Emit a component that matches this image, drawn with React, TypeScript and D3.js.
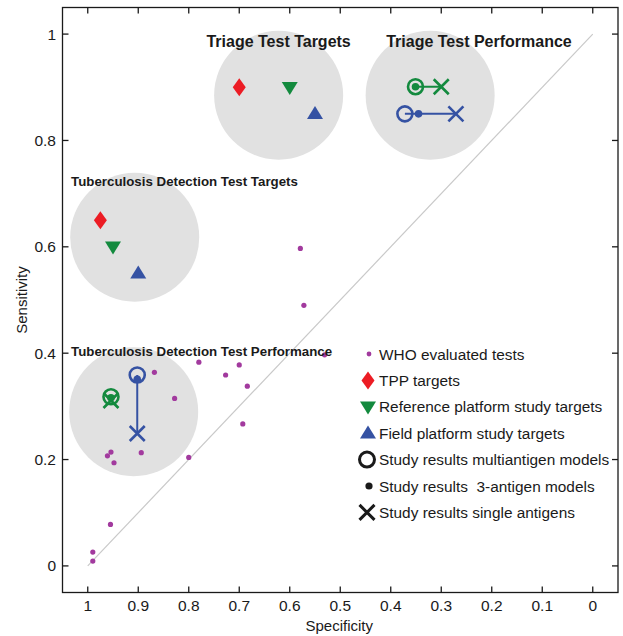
import React, { useEffect, useRef } from 'react'
import * as d3 from 'd3'

// WHO evaluated tests (specificity, sensitivity)
const whoSpecificity = [0.99, 0.99, 0.955, 0.961, 0.954, 0.948, 0.894, 0.8, 0.868, 0.828, 0.78, 0.7, 0.727, 0.684, 0.693, 0.531, 0.572, 0.579]
const whoSensitivity = [0.026, 0.009, 0.078, 0.207, 0.214, 0.194, 0.213, 0.204, 0.364, 0.315, 0.383, 0.378, 0.359, 0.338, 0.267, 0.397, 0.49, 0.597]

// targets: [triage, tuberculosis detection]
const tppSpec = [0.7, 0.975]
const tppSens = [0.9, 0.65]
const refSpec = [0.6, 0.95]
const refSens = [0.9, 0.6]
const fieldSpec = [0.55, 0.9]
const fieldSens = [0.85, 0.55]

// study results: [triage reference, triage field, TB reference, TB field]
const studyPlatform = ['ref', 'field', 'ref', 'field']
const multiSpec = [0.351, 0.372, 0.954, 0.902]
const multiSens = [0.901, 0.85, 0.318, 0.359]
const threeSpec = [0.351, 0.345, 0.954, 0.902]
const threeSens = [0.901, 0.85, 0.316, 0.351]
const singleSpec = [0.3, 0.271, 0.954, 0.902]
const singleSens = [0.901, 0.85, 0.311, 0.249]

// grey panels
const panelSpec = [0.622, 0.322, 0.907, 0.909]
const panelSens = [0.885, 0.885, 0.618, 0.29]
const panelTitles = ['Triage Test Targets', 'Triage Test Performance', 'Tuberculosis Detection Test Targets', 'Tuberculosis Detection Test Performance']
const titleSpec = [0.765, 0.409, 1.033, 1.033]
const titleSens = [0.976, 0.976, 0.714, 0.395]

const legendLabels = [
  'WHO evaluated tests',
  'TPP targets',
  'Reference platform study targets',
  'Field platform study targets',
  'Study results multiantigen models',
  'Study results  3-antigen models',
  'Study results single antigens',
]

const xTicks = [1, 0.9, 0.8, 0.7, 0.6, 0.5, 0.4, 0.3, 0.2, 0.1, 0]
const yTicks = [0, 0.2, 0.4, 0.6, 0.8, 1]

const W = 623
const H = 636
const FONT = 'Liberation Sans, Arial, Helvetica, sans-serif'
const RED = '#ec1c24'
const GREEN = '#138a3e'
const BLUE = '#3552a3'
const PURPLE = '#a23a9e'
const INK = '#1a1a1a'

const diamond = (w: number, h: number) => `M0,${-h}L${w},0L0,${h}L${-w},0Z`
const triUp = (w: number, h: number) => `M0,${-h * 0.6}L${w},${h * 0.4}L${-w},${h * 0.4}Z`
const triDown = (w: number, h: number) => `M0,${h * 0.6}L${w},${-h * 0.4}L${-w},${-h * 0.4}Z`
const cross = (s: number) => `M${-s},${-s}L${s},${s}M${-s},${s}L${s},${-s}`

const draw = (el: SVGSVGElement) => {
  const svg = d3.select(el)
  svg.selectAll('*').remove()

  const x = d3.scaleLinear().domain([1.05, -0.05]).range([62.5, 618])
  const y = d3.scaleLinear().domain([-0.05, 1.05]).range([592.5, 7.5])

  // panels
  svg
    .append('g')
    .selectAll('circle')
    .data(panelSpec)
    .join('circle')
    .attr('cx', d => x(d))
    .attr('cy', (d, i) => y(panelSens[i]))
    .attr('r', 64.5)
    .attr('fill', '#e1e1e1')

  // diagonal
  svg
    .append('line')
    .attr('x1', x(1))
    .attr('y1', y(0))
    .attr('x2', x(0))
    .attr('y2', y(1))
    .attr('stroke', '#c9c9c9')
    .attr('stroke-width', 1.2)

  // WHO tests
  svg
    .append('g')
    .selectAll('circle')
    .data(whoSpecificity)
    .join('circle')
    .attr('cx', d => x(d))
    .attr('cy', (d, i) => y(whoSensitivity[i]))
    .attr('r', 2.6)
    .attr('fill', PURPLE)

  // targets
  const targets = svg.append('g')
  tppSpec.forEach((d, i) => {
    targets.append('path').attr('d', diamond(6.5, 9)).attr('fill', RED)
      .attr('transform', `translate(${x(d)},${y(tppSens[i])})`)
  })
  refSpec.forEach((d, i) => {
    targets.append('path').attr('d', triDown(8, 13)).attr('fill', GREEN)
      .attr('transform', `translate(${x(d)},${y(refSens[i])})`)
  })
  fieldSpec.forEach((d, i) => {
    targets.append('path').attr('d', triUp(8, 13)).attr('fill', BLUE)
      .attr('transform', `translate(${x(d)},${y(fieldSens[i])})`)
  })

  // study results
  const results = svg.append('g')
  studyPlatform.forEach((p, i) => {
    const c = p === 'ref' ? GREEN : BLUE
    results.append('line')
      .attr('x1', x(multiSpec[i])).attr('y1', y(multiSens[i]))
      .attr('x2', x(singleSpec[i])).attr('y2', y(singleSens[i]))
      .attr('stroke', c).attr('stroke-width', 2)
    results.append('circle')
      .attr('cx', x(multiSpec[i])).attr('cy', y(multiSens[i])).attr('r', 7.5)
      .attr('fill', 'none').attr('stroke', c).attr('stroke-width', 2.6)
    results.append('circle')
      .attr('cx', x(threeSpec[i])).attr('cy', y(threeSens[i])).attr('r', 3.8)
      .attr('fill', c)
    results.append('path')
      .attr('d', cross(7.5))
      .attr('transform', `translate(${x(singleSpec[i])},${y(singleSens[i])})`)
      .attr('fill', 'none').attr('stroke', c).attr('stroke-width', 2.6)
  })

  // panel titles
  svg
    .append('g')
    .selectAll('text')
    .data(panelTitles)
    .join('text')
    .attr('x', (d, i) => x(titleSpec[i]))
    .attr('y', (d, i) => y(titleSens[i]))
    .attr('font-family', FONT)
    .attr('font-weight', 'bold')
    .attr('font-size', (d, i) => (i < 2 ? 16 : 13.3))
    .attr('fill', INK)
    .text(d => d)

  // frame + ticks (inward on all four sides)
  const frame = svg.append('g').attr('stroke', INK).attr('stroke-width', 1.3).attr('fill', 'none')
  frame.append('rect').attr('x', x(1.05)).attr('y', y(1.05)).attr('width', x(-0.05) - x(1.05)).attr('height', y(-0.05) - y(1.05))
  xTicks.forEach(t => {
    frame.append('line').attr('x1', x(t)).attr('x2', x(t)).attr('y1', y(-0.05)).attr('y2', y(-0.05) - 6)
    frame.append('line').attr('x1', x(t)).attr('x2', x(t)).attr('y1', y(1.05)).attr('y2', y(1.05) + 6)
  })
  yTicks.forEach(t => {
    frame.append('line').attr('y1', y(t)).attr('y2', y(t)).attr('x1', x(1.05)).attr('x2', x(1.05) + 6)
    frame.append('line').attr('y1', y(t)).attr('y2', y(t)).attr('x1', x(-0.05)).attr('x2', x(-0.05) - 6)
  })

  const fmt = (d: number) => (d === 0 || d === 1 ? String(d) : d3.format('.1f')(d))
  svg.append('g').selectAll('text').data(xTicks).join('text')
    .attr('x', d => x(d)).attr('y', 611)
    .attr('text-anchor', 'middle').attr('font-family', FONT).attr('font-size', 15.5).attr('fill', INK)
    .text(fmt)
  svg.append('g').selectAll('text').data(yTicks).join('text')
    .attr('x', 56).attr('y', d => y(d) + 5.5)
    .attr('text-anchor', 'end').attr('font-family', FONT).attr('font-size', 15.5).attr('fill', INK)
    .text(fmt)

  svg.append('text')
    .attr('x', x(0.5) - 1).attr('y', 631)
    .attr('text-anchor', 'middle').attr('font-family', FONT).attr('font-size', 15).attr('fill', INK)
    .text('Specificity')
  svg.append('text')
    .attr('transform', `translate(27,${y(0.5)}) rotate(-90)`)
    .attr('text-anchor', 'middle').attr('font-family', FONT).attr('font-size', 15).attr('fill', INK)
    .text('Sensitivity')

  // legend
  const legend = svg.append('g').attr('transform', 'translate(368,354)')
  const rowH = 26.4
  legend.selectAll('text').data(legendLabels).join('text')
    .attr('x', 11).attr('y', (d, i) => i * rowH + 5.5)
    .attr('font-family', FONT).attr('font-size', 15.4).attr('fill', INK)
    .style('white-space', 'pre')
    .text(d => d)
  legend.append('circle').attr('cx', 1).attr('cy', 0).attr('r', 2.4).attr('fill', PURPLE)
  legend.append('path').attr('d', diamond(6.5, 9)).attr('fill', RED).attr('transform', `translate(0,${rowH})`)
  legend.append('path').attr('d', triDown(8, 13)).attr('fill', GREEN).attr('transform', `translate(0,${rowH * 2})`)
  legend.append('path').attr('d', triUp(8, 13)).attr('fill', BLUE).attr('transform', `translate(0,${rowH * 3})`)
  legend.append('circle').attr('cx', -1).attr('cy', rowH * 4).attr('r', 7.5).attr('fill', 'none').attr('stroke', INK).attr('stroke-width', 3)
  legend.append('circle').attr('cx', 1).attr('cy', rowH * 5).attr('r', 3.6).attr('fill', INK)
  legend.append('path').attr('d', cross(7.5)).attr('transform', `translate(-1,${rowH * 6})`)
    .attr('fill', 'none').attr('stroke', INK).attr('stroke-width', 3)
}

export default function App() {
  const ref = useRef<SVGSVGElement>(null)
  useEffect(() => {
    if (ref.current) draw(ref.current)
  }, [])
  return (
    <svg
      ref={ref}
      width={W}
      height={H}
      style={{ position: 'absolute', left: 0, top: 0, background: '#fff' }}
    />
  )
}
